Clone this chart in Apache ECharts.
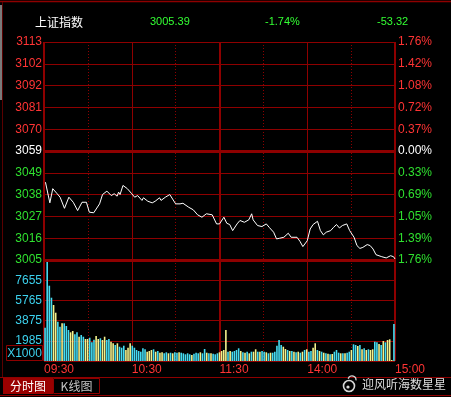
<!DOCTYPE html>
<html><head><meta charset="utf-8">
<script src="https://cdn.jsdelivr.net/npm/echarts@6/dist/echarts.min.js"></script>
<style>html,body{margin:0;padding:0;background:#000;overflow:hidden}#c{width:451px;height:397px}</style>
</head><body><div id="c"></div>
<script>
// ---------- data ----------
const indexName = '上证指数';
const lastPrice = '3005.39';
const changePct = '-1.74%';
const changeAbs = '-53.32';
const prevClose = 3058.71;
const priceAxisMin = 3004.88;
const priceAxisMax = 3112.54;

const priceLabels = ['3005','3016','3027','3038','3049','3059','3070','3081','3092','3102','3113'];
const pctLabels = ['1.76%','1.39%','1.05%','0.69%','0.33%','0.00%','0.37%','0.72%','1.08%','1.42%','1.76%'];
const volLabels = ['','1985','3875','5765','7655',''];
const volUnit = 'X1000';
const volAxisMin = 95;
const volAxisMax = 9545;
const timeTicks = [0,60,120,180,240];
const timeLabels = ['09:30','10:30','11:30','14:00','15:00'];

// minute index (0..240 trading minutes) and price
const priceMinute = [1,4,6,9,11,14,17,20,23,26,29,31,34,38,40,43,46,48,50,51,52,54,57,60,62,64,67,68,71,74,76,79,80,83,86,90,93,95,99,102,105,108,111,115,118,
  120,123,125,127,129,132,134,137,140,142,143,146,149,152,154,157,159,161,164,167,169,173,175,177,180,182,184,187,189,191,193,196,198,200,202,204,207,209,212,214,216,218,221,223,225,227,231,234,237,239,240];
const priceValue = [3043.3,3033.1,3040.1,3037.6,3035.9,3030.4,3035.9,3033.4,3029.3,3033.4,3033.4,3028.5,3028.2,3032.6,3037.2,3038.9,3036.7,3037.6,3036.4,3038.4,3037.2,3041.7,3040.1,3037.6,3035.9,3036.7,3034.3,3035.6,3033.9,3033.1,3033.9,3035.6,3034.3,3035.9,3037.2,3032.6,3032.6,3032.9,3030.9,3029.7,3027.2,3026.0,3027.7,3027.2,3022.7,
  3022.7,3026.0,3023.0,3022.4,3019.4,3022.7,3024.4,3023.5,3024.7,3027.7,3024.7,3021.9,3021.4,3022.7,3021.0,3018.6,3015.3,3015.6,3016.1,3018.1,3016.1,3016.1,3014.1,3011.5,3014.4,3020.2,3022.4,3024.0,3019.4,3017.3,3018.6,3019.4,3021.0,3022.4,3020.7,3021.9,3022.7,3019.4,3016.1,3012.0,3010.6,3011.1,3012.5,3012.0,3010.3,3007.5,3006.5,3005.9,3007.0,3006.5,3005.39];

// volume (x1000), one bar per drawn slot
const volume = [
  3210,9545,7140,6017,5334,4614,3772,3304,3622,3622,
  3370,2995,2780,2902,2593,2780,2368,2528,2368,2153,
  2153,2275,1845,2088,2434,2153,2219,2060,2368,2060,
  2153,1901,1751,1592,1751,1433,1339,1526,1124,1339,
  1751,1526,1339,1124,1031,965,1283,1190,965,1031,
  1124,1190,965,1031,872,909,815,909,815,872,
  815,909,872,909,872,815,722,815,722,656,
  778,872,815,909,815,1218,872,815,815,778,
  722,815,909,1031,1124,
  2995,965,1031,965,1031,1124,1283,1031,909,872,
  965,815,965,965,1190,965,965,1031,965,909,
  815,872,872,965,1526,2060,1592,1433,1218,1124,
  1031,1031,965,909,965,872,965,1124,1190,965,
  1031,1339,1751,1124,1031,965,872,815,778,722,
  750,965,1124,872,815,815,815,872,965,1124,
  1657,1592,1498,1592,1190,1283,1124,1190,1124,1190,
  1901,1845,1686,1592,1966,1845,2060,2125,189,3557
];
// 1 = up tick, 0 = down tick
const volUp = [
  0,0,0,0,1,1,0,0,1,0, 0,0,1,1,0,0,1,0,0,1, 1,0,0,0,1,1,0,1,1,0, 0,1,1,0,1,0,0,0,1,1,
  1,0,0,0,0,0,0,0,1,1, 1,0,1,0,1,1,0,0,1,0, 1,0,0,1,0,0,0,0,0,1, 0,0,0,1,0,0,1,0,1,0, 0,0,1,1,1,
  1,0,1,0,0,0,0,1,0,1, 0,1,0,1,1,0,1,0,0,1, 0,1,0,0,0,0,0,1,1,0, 1,0,1,0,1,0,1,0,1,0,
  0,1,1,0,1,0,1,0,1,0, 1,0,0,0,1,0,1,0,0,1, 0,0,1,0,1,0,1,0,1,1, 0,0,1,0,1,0,1,1,1,0
];

// ---------- styles ----------
const GRID = '#8e0000';
const RED = '#ff3434';
const GREEN = '#2fe02f';
const CYAN = '#3cd2ee';
const FONT = 'Liberation Sans, Arial, sans-serif';
const CJK = '"Noto Sans CJK SC", sans-serif';

function sideColor(i) { return i < 5 ? GREEN : (i === 5 ? '#ffffff' : RED); }

const chart = echarts.init(document.getElementById('c'), null, {renderer: 'canvas'});

function gridX(gridIndex, interval, lineStyle, extra) {
  return Object.assign({
    gridIndex, type: 'value', min: 0, max: 240, interval, position: 'bottom',
    axisLine: {show: false}, axisTick: {show: false}, axisLabel: {show: false},
    splitLine: {show: true, lineStyle}
  }, extra || {});
}

const option = {
  backgroundColor: '#000',
  animation: false,
  grid: [
    {left: 44, top: 42, width: 351, height: 218},
    {left: 44, top: 260, width: 351, height: 101}
  ],
  xAxis: [
    gridX(0, 30, {color: GRID, width: 1, type: [1, 2]}),
    gridX(0, 60, {color: GRID, width: 1}),
    gridX(0, 120, {color: GRID, width: 2}),
    gridX(1, 30, {color: GRID, width: 1, type: [1, 2]}),
    gridX(1, 60, {color: GRID, width: 1}, {
      axisLabel: {show: true, align: 'left', margin: 3, color: RED, fontSize: 12, fontFamily: FONT,
        showMinLabel: true, showMaxLabel: true,
        formatter: v => { const k = timeTicks.indexOf(Math.round(v)); return k >= 0 ? timeLabels[k] : ''; }}
    }),
    gridX(1, 120, {color: GRID, width: 2}),
    {gridIndex: 1, type: 'category', position: 'bottom', data: volume.map((_, i) => i), show: false, boundaryGap: true}
  ],
  yAxis: [
    {gridIndex: 0, type: 'value', min: 0, max: 10, interval: 1, position: 'left',
      axisLine: {show: false}, axisTick: {show: false},
      axisLabel: {margin: 2, fontSize: 12, fontFamily: FONT, showMinLabel: true, showMaxLabel: true,
        formatter: v => priceLabels[Math.round(v)], color: v => sideColor(Math.round(v))},
      splitLine: {show: true, lineStyle: {color: GRID, width: 1}}},
    {gridIndex: 0, type: 'value', min: 0, max: 10, interval: 1, position: 'right',
      axisLine: {show: false}, axisTick: {show: false},
      axisLabel: {margin: 3, fontSize: 12, fontFamily: FONT, showMinLabel: true, showMaxLabel: true,
        formatter: v => pctLabels[Math.round(v)], color: v => sideColor(Math.round(v))},
      splitLine: {show: false}},
    {gridIndex: 0, type: 'value', min: priceAxisMin, max: priceAxisMax, show: false, splitLine: {show: false}},
    {gridIndex: 1, type: 'value', min: 0, max: 5, interval: 1, position: 'left',
      axisLine: {show: false}, axisTick: {show: false},
      axisLabel: {margin: 2, fontSize: 12, fontFamily: FONT, color: CYAN, showMinLabel: true, showMaxLabel: true,
        formatter: v => volLabels[Math.round(v)]},
      splitLine: {show: true, lineStyle: {color: GRID, width: 1}}},
    {gridIndex: 1, type: 'value', min: volAxisMin, max: volAxisMax, show: false, splitLine: {show: false}}
  ],
  series: [
    {
      type: 'bar', xAxisIndex: 6, yAxisIndex: 4, barWidth: 1.6, clip: true, silent: true,
      data: volume.map((v, i) => ({value: v, itemStyle: {color: volUp[i] ? '#f4f28c' : '#45dcf2'}}))
    },
    {
      type: 'line', xAxisIndex: 0, yAxisIndex: 2, symbol: 'none', silent: true,
      lineStyle: {color: '#ffffff', width: 1},
      data: priceMinute.map((m, i) => [m, priceValue[i]]),
      markLine: {
        silent: true, symbol: 'none', label: {show: false},
        lineStyle: {color: GRID, width: 3, type: 'solid'},
        data: [{yAxis: prevClose}, {yAxis: priceAxisMin}]
      },
      z: 3
    }
  ],
  graphic: [
    {type: 'line', shape: {x1: 0, y1: 1.5, x2: 451, y2: 1.5}, style: {stroke: GRID, lineWidth: 1.5}, silent: true},
    {type: 'line', shape: {x1: 2.5, y1: 2, x2: 2.5, y2: 377}, style: {stroke: '#5a0000', lineWidth: 1}, silent: true},
    {type: 'rect', shape: {x: 0, y: 5, width: 2, height: 95}, style: {fill: '#7a7a7a'}, silent: true},
    {type: 'line', shape: {x1: 0, y1: 377.5, x2: 451, y2: 377.5}, style: {stroke: GRID, lineWidth: 1}, silent: true},
    {type: 'line', shape: {x1: 0, y1: 395.5, x2: 451, y2: 395.5}, style: {stroke: GRID, lineWidth: 1}, silent: true},
    {type: 'text', x: 35, y: 22, style: {text: indexName, fill: '#ffffff', font: '12px ' + CJK, verticalAlign: 'middle'}, silent: true},
    {type: 'text', x: 150, y: 22, style: {text: lastPrice, fill: '#33ff33', font: '11px ' + FONT, verticalAlign: 'middle'}, silent: true},
    {type: 'text', x: 265, y: 22, style: {text: changePct, fill: '#33ff33', font: '11px ' + FONT, verticalAlign: 'middle'}, silent: true},
    {type: 'text', x: 377, y: 22, style: {text: changeAbs, fill: '#33ff33', font: '11px ' + FONT, verticalAlign: 'middle'}, silent: true},
    {type: 'rect', shape: {x: 6.5, y: 345.5, width: 36, height: 15}, style: {fill: 'none', stroke: GRID, lineWidth: 1}, silent: true},
    {type: 'text', x: 24.5, y: 353.5, style: {text: volUnit, fill: CYAN, font: '12px ' + FONT, align: 'center', verticalAlign: 'middle'}, silent: true},
    {type: 'rect', shape: {x: 3, y: 378, width: 50, height: 16}, style: {fill: '#9a0000'}, silent: true},
    {type: 'text', x: 28, y: 386.5, style: {text: '分时图', fill: '#ffffff', font: '12px ' + CJK, align: 'center', verticalAlign: 'middle'}, silent: true},
    {type: 'rect', shape: {x: 53.5, y: 378.5, width: 46, height: 15}, style: {fill: 'none', stroke: GRID, lineWidth: 1}, silent: true},
    {type: 'text', x: 76.5, y: 386.5, style: {text: 'K线图', fill: '#c4c4c4', font: '12px ' + CJK, align: 'center', verticalAlign: 'middle'}, silent: true},
    {type: 'circle', shape: {cx: 349, cy: 386, r: 5.5}, style: {fill: 'none', stroke: '#d8d8d8', lineWidth: 1.6}, silent: true},
    {type: 'circle', shape: {cx: 348, cy: 387, r: 1.6}, style: {fill: '#d8d8d8'}, silent: true},
    {type: 'arc', shape: {cx: 352, cy: 380, r: 4, startAngle: -Math.PI * 0.9, endAngle: 0.1}, style: {fill: 'none', stroke: '#d8d8d8', lineWidth: 1.3}, silent: true},
    {type: 'text', x: 362, y: 384, style: {text: '迎风听海数星星', fill: '#dedede', font: '12px ' + CJK, verticalAlign: 'middle'}, silent: true}
  ]
};
chart.setOption(option);
</script>
</body></html>
